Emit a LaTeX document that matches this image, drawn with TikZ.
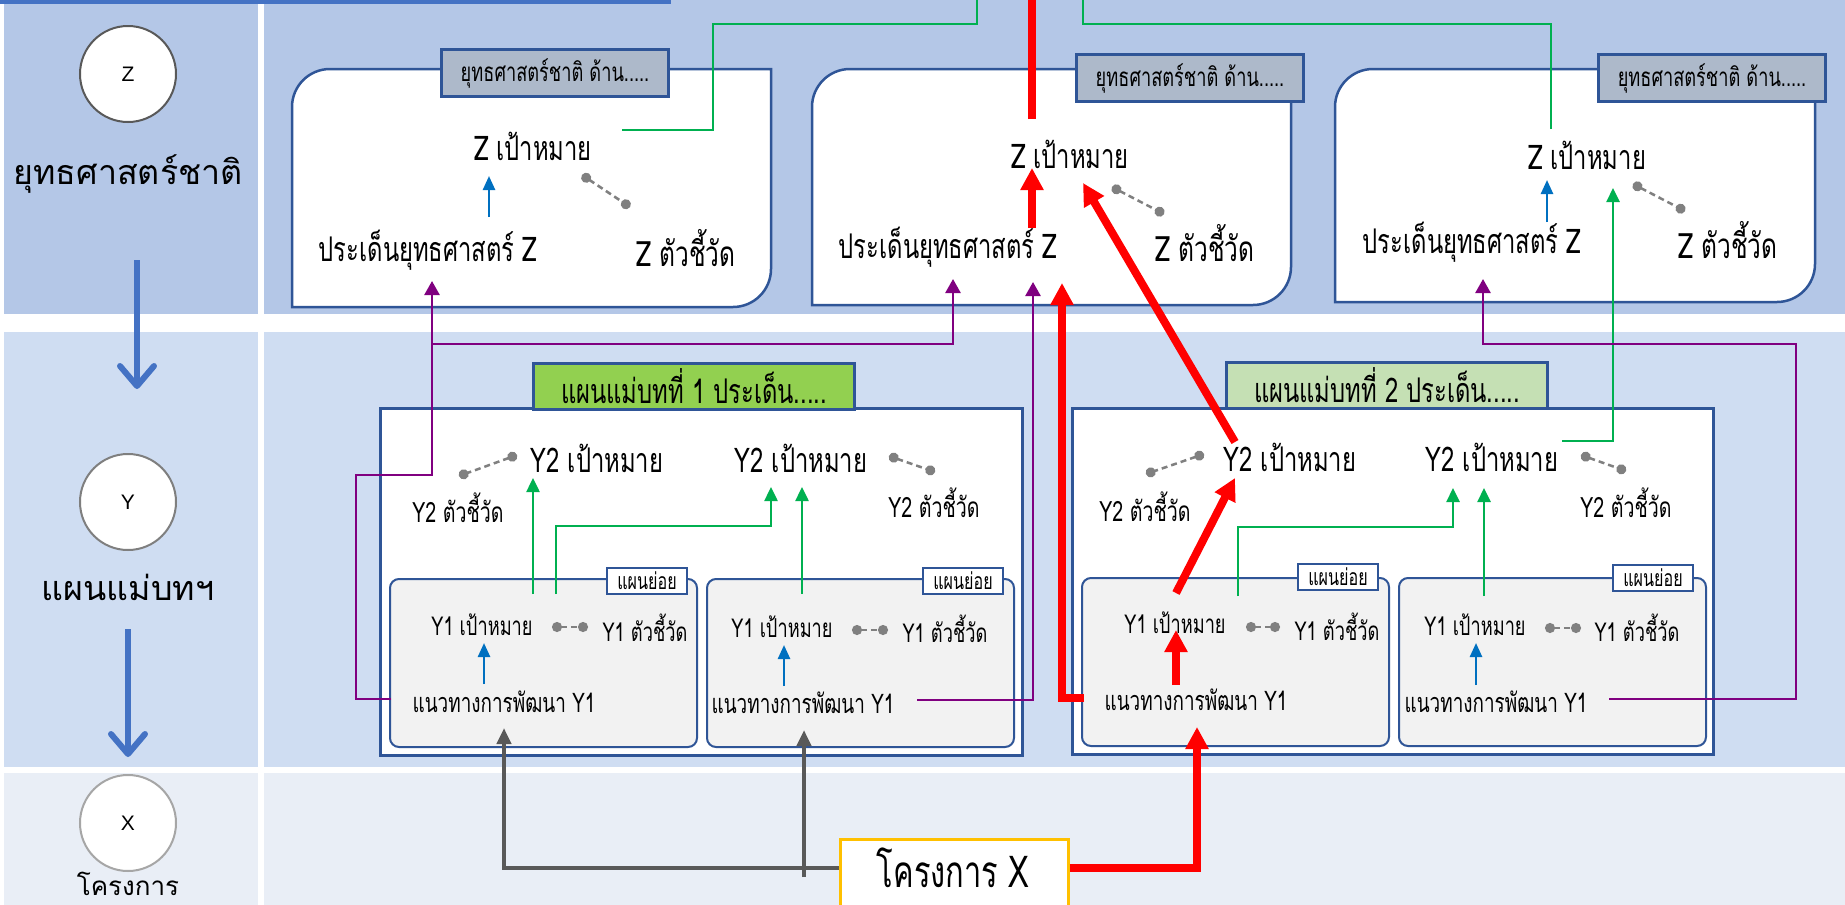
\documentclass[tikz,border=0pt]{standalone}
\usepackage{fontspec}
\setmainfont{Liberation Sans}
\newfontfamily\thl[Script=Thai]{Loma}
\newfontfamily\thc[Script=Thai,FakeStretch=0.70]{Loma}
\usetikzlibrary{arrows.meta}
\definecolor{cZ}{HTML}{B4C7E7}
\definecolor{cY}{HTML}{CFDDF2}
\definecolor{cX}{HTML}{E9EEF6}
\definecolor{cBar}{HTML}{4472C4}
\definecolor{cBd}{HTML}{2F5597}
\definecolor{cTab}{HTML}{ADB9CA}
\definecolor{cSub}{HTML}{F2F2F2}
\definecolor{cGrn}{HTML}{00B050}
\definecolor{cBlu}{HTML}{0070C0}
\definecolor{cPur}{HTML}{800080}
\definecolor{cRed}{HTML}{FF0000}
\definecolor{cDot}{HTML}{808080}
\definecolor{cGry}{HTML}{595959}
\definecolor{cYel}{HTML}{FFC000}
\definecolor{cGa}{HTML}{92D050}
\definecolor{cGb}{HTML}{C5E0B4}
\definecolor{cCa}{HTML}{595959}
\definecolor{cCb}{HTML}{7F7F7F}
\definecolor{cCc}{HTML}{A6A6A6}
\newcommand\zboxpath[4]{\draw[zbx] (#1+38,#2) -- (#3,#2) -- (#3,#4-38) arc[start angle=0,end angle=-90,radius=38pt] -- (#1,#4) -- (#1,#2+38) arc[start angle=180,end angle=90,radius=38pt] -- cycle;}
\begin{document}
\begin{tikzpicture}[x=1pt,y=-1pt,
 lab/.style={inner sep=0pt, font=\thc\fontsize{#1pt}{#1pt}\selectfont},
 biglab/.style={inner sep=0pt, font=\thl\fontsize{#1pt}{#1pt}\selectfont},
 circ/.style={circle, fill=white, minimum size=96pt, inner sep=0pt, line width=2pt, font=\fontsize{21pt}{21pt}\selectfont},
 zbx/.style={draw=cBd, fill=white, line width=2.5pt},
 ztab/.style={draw=cBd, fill=cTab, line width=3pt, inner sep=0pt, anchor=north west, minimum width=227pt, minimum height=47pt, font=\thc\fontsize{26pt}{26pt}\selectfont},
 pbox/.style={draw=cBd, fill=white, line width=3pt, inner sep=0pt, anchor=north west},
 ptab/.style={draw=cBd, line width=3pt, inner sep=0pt, anchor=north west, minimum width=321pt, minimum height=46pt, font=\thc\fontsize{34pt}{34pt}\selectfont},
 sbox/.style={draw=cBd, fill=cSub, line width=2pt, rounded corners=9pt, inner sep=0pt, anchor=north west, minimum width=307pt, minimum height=168pt},
 stab/.style={draw=cBd, fill=white, line width=2pt, inner sep=0pt, anchor=north west, minimum width=80pt, minimum height=26pt, font=\thc\fontsize{23pt}{23pt}\selectfont},
 grn/.style={draw=cGrn, line width=2.5pt},
 grnA/.style={grn, arrows={-Triangle[length=14pt,width=13pt]}},
 bluA/.style={draw=cBlu, line width=2.5pt, arrows={-Triangle[length=14pt,width=12pt]}},
 pur/.style={draw=cPur, line width=2.5pt},
 purA/.style={pur, arrows={-Triangle[length=14pt,width=15pt]}},
 redl/.style={draw=cRed, line width=8pt},
 redA/.style={redl, arrows={-Triangle[length=22pt,width=22pt]}},
 gryA/.style={draw=cGry, line width=4pt, arrows={-Triangle[length=16pt,width=14pt]}},
 indl/.style={draw=cDot, line width=2.5pt, dash pattern=on 6pt off 4pt, arrows={Circle[length=10pt]-Circle[length=10pt]}},
 bigA/.style={draw=cBar, line width=6pt, arrows={-Straight Barb[length=20pt,width=34pt,round]}},
]
\useasboundingbox (0,0) rectangle (1845,905);
% bands
\fill[cZ] (4,4) rectangle (258,314);
\fill[cZ] (264,0) rectangle (1845,314);
\fill[cBar] (0,0) rectangle (671,4);
\fill[cY] (4,332) rectangle (258,767);
\fill[cY] (264,332) rectangle (1845,767);
\fill[cX] (4,773) rectangle (258,905);
\fill[cX] (264,773) rectangle (1845,905);
% left column
\node[circ, draw=cCa] (zc) at (128,74) {Z};
\node[biglab=34] (zlab) at (128,174) {ยุทธศาสตร์ชาติ};
\node[circ, draw=cCb] (yc) at (128,502) {Y};
\node[biglab=34] (ylab) at (128,587) {แผนแม่บทฯ};
\node[circ, draw=cCc] (xc) at (128,823) {X};
\node[biglab=26] (xlab) at (128,884) {โครงการ};
\path (137,260) coordinate (la1s) (137,389) coordinate (la1e) (128,629) coordinate (la2s) (128,757) coordinate (la2e);
\draw[bigA] (la1s) -- (la1e);
\draw[bigA] (la2s) -- (la2e);
% Z boxes
\zboxpath{292}{69}{771}{307}
\zboxpath{812}{69}{1291}{305}
\zboxpath{1335}{69}{1815}{302}
\node[ztab] (zt1) at (440,48) {ยุทธศาสตร์ชาติ ด้าน.....};
\node[ztab] (zt2) at (1075,53) {ยุทธศาสตร์ชาติ ด้าน.....};
\node[ztab] (zt3) at (1597,53) {ยุทธศาสตร์ชาติ ด้าน.....};
\node[lab=34] (zg1) at (533,146) {Z เป้าหมาย};
\node[lab=34] (zi1) at (428,250) {ประเด็นยุทธศาสตร์ Z};
\node[lab=35] (zk1) at (686,248) {Z ตัวชี้วัด};
\node[lab=34] (zg2) at (1070,154) {Z เป้าหมาย};
\node[lab=34] (zi2) at (948,247) {ประเด็นยุทธศาสตร์ Z};
\node[lab=35] (zk2) at (1205,243) {Z ตัวชี้วัด};
\node[lab=34] (zg3) at (1587,155) {Z เป้าหมาย};
\node[lab=34] (zi3) at (1472,242) {ประเด็นยุทธศาสตร์ Z};
\node[lab=35] (zk3) at (1728,240) {Z ตัวชี้วัด};
% plan 1
\node[pbox, minimum width=642pt, minimum height=347pt] (pb1) at (379,407) {};
\node[ptab, fill=cGa] (pt1) at (532,362) {แผนแม่บทที่ 1 ประเด็น.....};
\node[sbox] (sb11) at (389,578) {};
\node[stab] (st11) at (606,567) {แผนย่อย};
\node[sbox] (sb12) at (706,578) {};
\node[stab] (st12) at (922,567) {แผนย่อย};
% plan 2
\node[pbox, minimum width=641pt, minimum height=346pt] (pb2) at (1071,407) {};
\node[ptab, fill=cGb] (pt2) at (1225,361) {แผนแม่บทที่ 2 ประเด็น.....};
\node[sbox] (sb21) at (1081,577) {};
\node[stab] (st21) at (1297,563) {แผนย่อย};
\node[sbox] (sb22) at (1398,577) {};
\node[stab] (st22) at (1612,564) {แผนย่อย};
% plan texts
\node[lab=34] (y2g11) at (597,458) {Y2 เป้าหมาย};
\node[lab=34] (y2g12) at (801,458) {Y2 เป้าหมาย};
\node[lab=28] (y2i11) at (458,508) {Y2 ตัวชี้วัด};
\node[lab=28] (y2i12) at (934,503) {Y2 ตัวชี้วัด};
\node[lab=26] (y1g11) at (482,625) {Y1 เป้าหมาย};
\node[lab=26] (y1i11) at (645,628) {Y1 ตัวชี้วัด};
\node[lab=27] (dv11) at (504,702) {แนวทางการพัฒนา Y1};
\node[lab=26] (y1g12) at (782,627) {Y1 เป้าหมาย};
\node[lab=26] (y1i12) at (945,629) {Y1 ตัวชี้วัด};
\node[lab=27] (dv12) at (803,703) {แนวทางการพัฒนา Y1};
\node[lab=34] (y2g21) at (1290,457) {Y2 เป้าหมาย};
\node[lab=34] (y2g22) at (1492,457) {Y2 เป้าหมาย};
\node[lab=28] (y2i21) at (1145,507) {Y2 ตัวชี้วัด};
\node[lab=28] (y2i22) at (1626,503) {Y2 ตัวชี้วัด};
\node[lab=26] (y1g21) at (1175,623) {Y1 เป้าหมาย};
\node[lab=26] (y1i21) at (1337,627) {Y1 ตัวชี้วัด};
\node[lab=27] (dv21) at (1196,700) {แนวทางการพัฒนา Y1};
\node[lab=26] (y1g22) at (1475,625) {Y1 เป้าหมาย};
\node[lab=26] (y1i22) at (1637,628) {Y1 ตัวชี้วัด};
\node[lab=27] (dv22) at (1496,702) {แนวทางการพัฒนา Y1};
% project box
\node[draw=cYel, fill=white, line width=2.5pt, minimum width=228pt, minimum height=80pt, anchor=north west, inner sep=0pt] (xb) at (839,838) {};
\node[lab=44] (xt) at (953,868) {โครงการ X};
% indicator links
\draw[indl] (582,175) coordinate (d1a) -- (630,207) coordinate (d1b);
\draw[indl] (1112,187) coordinate (d2a) -- (1164,214) coordinate (d2b);
\draw[indl] (1633,184) coordinate (d3a) -- (1685,211) coordinate (d3b);
\draw[indl] (517,455) coordinate (d4a) -- (459,476) coordinate (d4b);
\draw[indl] (889,456) coordinate (d5a) -- (935,472) coordinate (d5b);
\draw[indl] (1204,454) coordinate (d6a) -- (1146,474) coordinate (d6b);
\draw[indl] (1581,455) coordinate (d7a) -- (1626,471) coordinate (d7b);
\draw[indl] (552,627) coordinate (d8a) -- (588,627) coordinate (d8b);
\draw[indl] (852,630) coordinate (d9a) -- (888,630) coordinate (d9b);
\draw[indl] (1246,627) coordinate (d10a) -- (1280,627) coordinate (d10b);
\draw[indl] (1545,628) coordinate (d11a) -- (1581,628) coordinate (d11b);
% blue arrows
\draw[bluA] (489,217) coordinate (b1s) -- (489,176) coordinate (b1e);
\draw[bluA] (1547,222) coordinate (b2s) -- (1547,180) coordinate (b2e);
\draw[bluA] (484,684) coordinate (b3s) -- (484,643) coordinate (b3e);
\draw[bluA] (784,686) coordinate (b4s) -- (784,645) coordinate (b4e);
\draw[bluA] (1476,685) coordinate (b5s) -- (1476,643) coordinate (b5e);
% green
\draw[grn] (622,130) coordinate (g0s) -- (713,130) -- (713,24) -- (977,24) -- (977,0) coordinate (g0e);
\draw[grn] (1551,129) coordinate (g9s) -- (1551,24) -- (1083,24) -- (1083,0) coordinate (g9e);
\draw[grnA] (533,594) coordinate (g1s) -- (533,478) coordinate (g1e);
\draw[grnA] (556,594) coordinate (g2s) -- (556,526) -- (771,526) -- (771,487) coordinate (g2e);
\draw[grnA] (802,594) coordinate (g3s) -- (802,487) coordinate (g3e);
\draw[grnA] (1238,596) coordinate (g4s) -- (1238,527) -- (1453,527) -- (1453,488) coordinate (g4e);
\draw[grnA] (1484,596) coordinate (g5s) -- (1484,488) coordinate (g5e);
\draw[grnA] (1562,441) coordinate (g6s) -- (1613,441) -- (1613,188) coordinate (g6e);
% purple
\draw[purA] (391,699) coordinate (p1s) -- (356,699) -- (356,475) -- (432,475) -- (432,281) coordinate (p1e);
\draw[purA] (432,344) coordinate (p2s) -- (953,344) -- (953,279) coordinate (p2e);
\draw[purA] (917,700) coordinate (p3s) -- (1033,700) -- (1033,282) coordinate (p3e);
\draw[purA] (1609,699) coordinate (p4s) -- (1796,699) -- (1796,344) -- (1483,344) -- (1483,279) coordinate (p4e);
% gray from project
\path (504,728) coordinate (gx1) (804,877) coordinate (gx2s) (804,730) coordinate (gx2) (1197,727) coordinate (rx);
\draw[gryA] (xt -| xb.west) -| (gx1);
\draw[gryA] (gx2s) -- (gx2);
% red
\draw[redA] (xt -| xb.east) -| (rx);
\draw[redA] (1084,698) coordinate (r1s) -- (1062,698) -- (1062,283) coordinate (r1e);
\draw[redA] (1176,685) coordinate (r2s) -- (1176,630) coordinate (r2e);
\draw[redA] (1176,593) coordinate (r3s) -- (1235,478) coordinate (r3e);
\draw[redA] (1235,442) coordinate (r4s) -- (1083,183) coordinate (r4e);
\draw[redA] (1032,228) coordinate (r5s) -- (1032,168) coordinate (r5e);
\draw[redl] (1032,119) coordinate (r6s) -- (1032,0) coordinate (r6e);
\end{tikzpicture}
\end{document}
